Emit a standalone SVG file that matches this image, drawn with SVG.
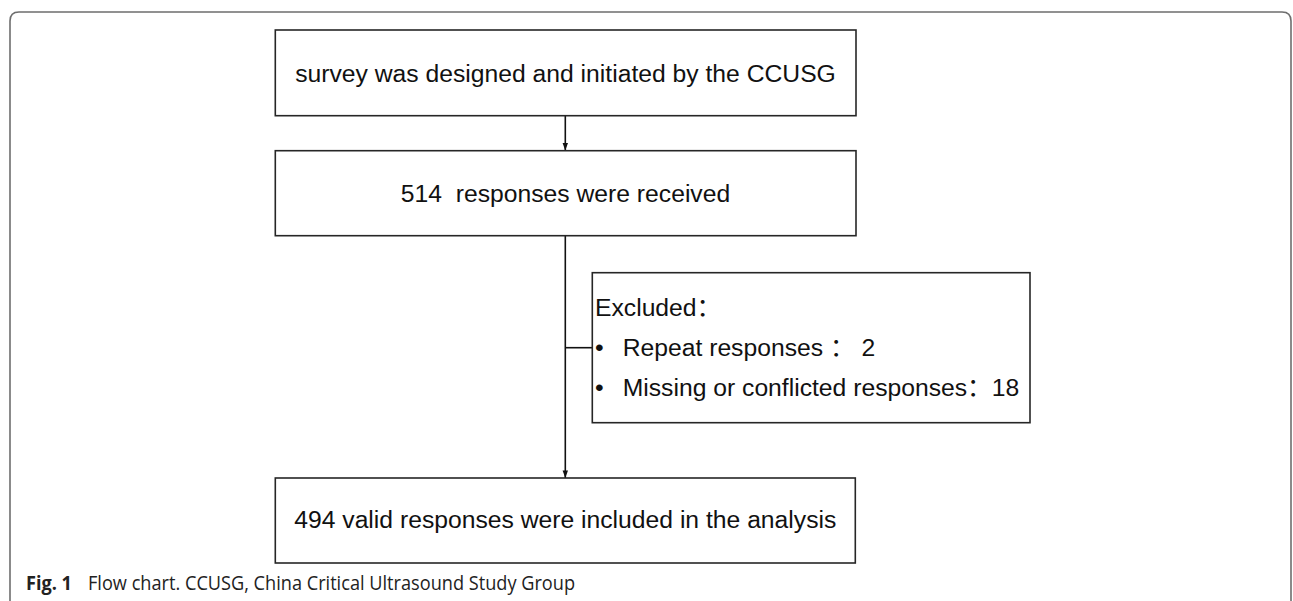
<svg xmlns="http://www.w3.org/2000/svg" width="1293" height="601" viewBox="0 0 1293 601">
<style>
.box{fill:#fff;stroke:#262626;stroke-width:1.6}
.t{font-family:"Liberation Sans","Noto Sans CJK SC",Arial,sans-serif;font-size:24.7px;fill:#111}
.c{text-anchor:middle}
.conn{stroke:#111;stroke-width:1.6;fill:none}
.cap{font-family:"Open Sans","Noto Sans",sans-serif;font-size:20px;fill:#222}
</style>
<rect width="1293" height="601" fill="#fff"/>
<path d="M10,601 V21 Q10,12 19,12 H1282 Q1291,12 1291,21 V601" fill="none" stroke="#6e6e6e" stroke-width="1.6"/>
<g id="connectors">
<line class="conn" x1="565.3" y1="116" x2="565.3" y2="150.5"/>
<path d="M562.6,143 L568,143 L565.3,150.5 Z" fill="#111"/>
<line class="conn" x1="565.3" y1="236" x2="565.3" y2="478"/>
<path d="M562.6,470.5 L568,470.5 L565.3,478 Z" fill="#111"/>
<line class="conn" x1="565.3" y1="347.7" x2="592.3" y2="347.7"/>
</g>
<g id="node-survey">
<rect class="box" x="275.3" y="30" width="580.7" height="85.7"/>
<text class="t c" x="565.5" y="82">survey was designed and initiated by the CCUSG</text>
</g>
<g id="node-received">
<rect class="box" x="275.3" y="150.7" width="580.7" height="85"/>
<text class="t c" x="565.5" y="202" xml:space="preserve">514  responses were received</text>
</g>
<g id="node-excluded">
<rect class="box" x="592.3" y="272.7" width="437.7" height="150"/>
<text class="t" x="595" y="316">Excluded：</text>
<text class="t" x="595" y="356">•</text>
<text class="t" x="622.7" y="356" xml:space="preserve">Repeat responses ： 2</text>
<text class="t" x="595" y="396">•</text>
<text class="t" x="622.7" y="396" xml:space="preserve">Missing or conflicted responses：18</text>
</g>
<g id="node-valid">
<rect class="box" x="275.3" y="478" width="580" height="85"/>
<text class="t c" x="565.3" y="528">494 valid responses were included in the analysis</text>
</g>
<g id="caption">
<text class="cap" x="26" y="590" font-weight="bold" textLength="46" lengthAdjust="spacingAndGlyphs">Fig. 1</text>
<text class="cap" x="88" y="590" textLength="487" lengthAdjust="spacingAndGlyphs">Flow chart. CCUSG, China Critical Ultrasound Study Group</text>
</g>
</svg>
